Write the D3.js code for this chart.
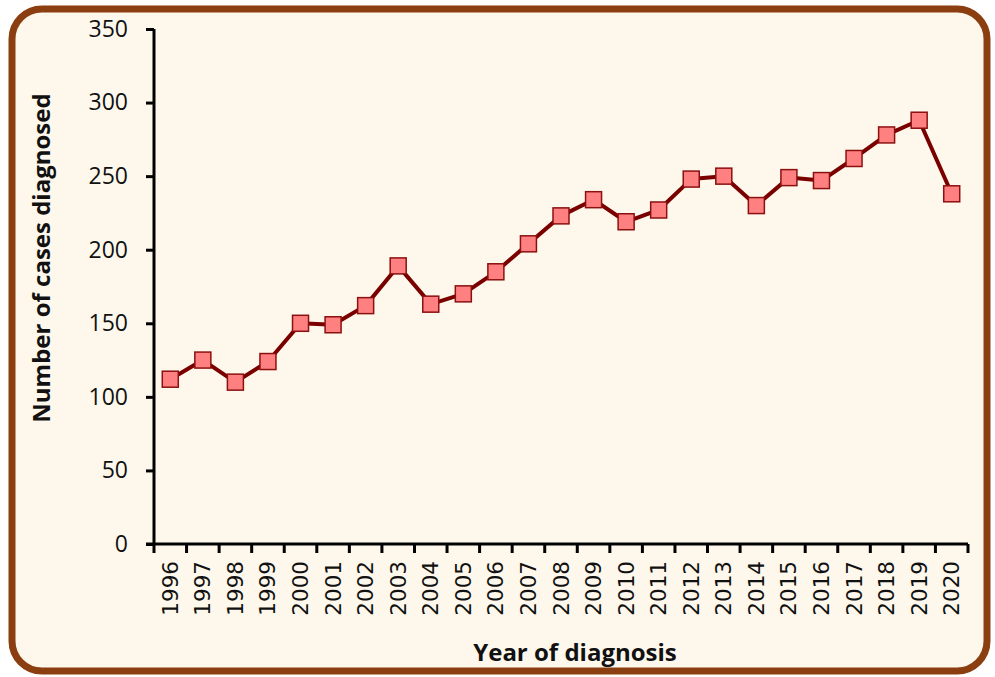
<!DOCTYPE html>
<html>
<head>
<meta charset="utf-8">
<script src="https://cdn.jsdelivr.net/npm/d3@7"></script>
<style>
  body { margin: 0; background: #ffffff; }
  svg { display: block; }
</style>
</head>
<body>
<div id="chart"></div>
<script>
var years = ["1996","1997","1998","1999","2000","2001","2002","2003","2004","2005","2006","2007","2008",
             "2009","2010","2011","2012","2013","2014","2015","2016","2017","2018","2019","2020"];
var cases = [112, 125, 110, 124, 150, 149, 162, 189, 163, 170, 185, 204, 223,
             234, 219, 227, 248, 250, 230, 249, 247, 262, 278, 288, 238];
var yTicks = [0, 50, 100, 150, 200, 250, 300, 350];

var W = 995, H = 677,
    margin = {top: 29, right: 27, bottom: 133, left: 154},
    width = W - margin.left - margin.right,
    height = H - margin.top - margin.bottom;

var svg = d3.select("#chart").append("svg")
    .attr("width", W)
    .attr("height", H);

// frame
svg.append("rect")
    .attr("x", 12).attr("y", 9)
    .attr("width", 975).attr("height", 662)
    .attr("rx", 30).attr("ry", 30)
    .attr("fill", "#fef8ec")
    .attr("stroke", "#8b3e0f")
    .attr("stroke-width", 7);

var g = svg.append("g")
    .attr("transform", "translate(" + margin.left + "," + margin.top + ")");

var x = d3.scaleBand().domain(years).range([0, width]);
var y = d3.scaleLinear().domain([0, 350]).range([height, 0]);

// y axis
var yAxis = g.append("g")
    .call(d3.axisLeft(y).tickValues(yTicks).tickSize(8).tickPadding(18));
yAxis.select(".domain").attr("stroke-width", 3).attr("d", "M0," + (height + 1) + "V0");
yAxis.selectAll(".tick line").attr("stroke-width", 3);
yAxis.selectAll("text")
    .attr("font-family", "Open Sans")
    .attr("font-size", 23)
    .attr("fill", "#111");

// x axis with ticks at band edges
var xAxis = g.append("g").attr("transform", "translate(0," + height + ")");
xAxis.append("line")
    .attr("x1", -8).attr("x2", width)
    .attr("stroke", "#000").attr("stroke-width", 3);
var edges = years.map(function(d) { return x(d); }).concat([width]);
xAxis.selectAll(".xtick").data(edges).enter().append("line")
    .attr("class", "xtick")
    .attr("x1", function(d) { return d; }).attr("x2", function(d) { return d; })
    .attr("y1", 0).attr("y2", 9)
    .attr("stroke", "#000").attr("stroke-width", 3);
xAxis.selectAll(".xlab").data(years).enter().append("text")
    .attr("class", "xlab")
    .attr("transform", function(d) { return "translate(" + (x(d) + x.bandwidth() / 2) + ",17) rotate(-90)"; })
    .attr("dy", "0.35em")
    .attr("text-anchor", "end")
    .attr("font-family", "DejaVu Sans")
    .attr("font-size", 21.5)
    .attr("fill", "#111")
    .text(function(d) { return d; });

// line
var line = d3.line()
    .x(function(d, i) { return x(years[i]) + x.bandwidth() / 2; })
    .y(function(d) { return y(d); });

g.append("path")
    .datum(cases)
    .attr("d", line)
    .attr("fill", "none")
    .attr("stroke", "#7a0000")
    .attr("stroke-width", 4)
    .attr("stroke-linejoin", "round");

var s = 16;
g.selectAll(".pt").data(cases).enter().append("rect")
    .attr("class", "pt")
    .attr("x", function(d, i) { return x(years[i]) + x.bandwidth() / 2 - s / 2; })
    .attr("y", function(d) { return y(d) - s / 2; })
    .attr("width", s).attr("height", s)
    .attr("fill", "#ff8080")
    .attr("stroke", "#8b1010")
    .attr("stroke-width", 1.5);

// titles
svg.append("text")
    .attr("transform", "translate(50,258) rotate(-90)")
    .attr("text-anchor", "middle")
    .attr("font-family", "Open Sans")
    .attr("font-weight", "bold")
    .attr("font-size", 24)
    .attr("fill", "#111")
    .text("Number of cases diagnosed");

svg.append("text")
    .attr("x", 575).attr("y", 661)
    .attr("text-anchor", "middle")
    .attr("font-family", "Open Sans")
    .attr("font-weight", "bold")
    .attr("font-size", 24)
    .attr("fill", "#111")
    .text("Year of diagnosis");
</script>
</body>
</html>
